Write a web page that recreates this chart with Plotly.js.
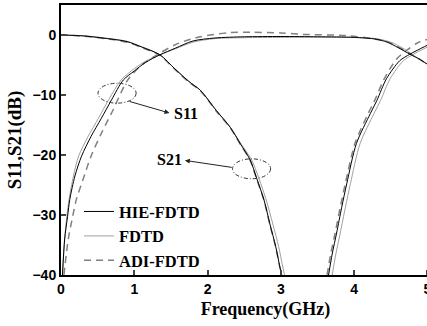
<!DOCTYPE html>
<html>
<head>
<meta charset="utf-8">
<script src="https://cdn.plot.ly/plotly-3.0.1.min.js"></script>
<style>
html,body{margin:0;padding:0;overflow:hidden;background:#fff;}
#chart{width:470px;height:326px;}
</style>
</head>
<body>
<div id="chart"></div>
<script>
// ---- data ----
const methods = ['HIE-FDTD', 'FDTD', 'ADI-FDTD'];

// Curve S21 (starts near 0 dB, falls to -40 dB near 3 GHz)
const s21_f_hie  = [0, 0.3, 0.6, 0.9, 1.1, 1.35, 1.55, 1.75, 1.9, 2.12, 2.31, 2.45, 2.58, 2.67, 2.77, 2.85, 2.93, 2.98, 3.01];
const s21_db_hie = [0, -0.15, -0.55, -1.1, -2.0, -3.3, -5.6, -7.8, -9.2, -12.6, -15.4, -18.2, -20.8, -23.9, -27.5, -31.5, -35.3, -38.3, -40];
const s21_f_fdtd  = [0, 0.3, 0.6, 0.9, 1.1, 1.35, 1.55, 1.75, 1.9, 2.12, 2.31, 2.46, 2.6, 2.7, 2.8, 2.89, 2.97, 3.02, 3.05];
const s21_db_fdtd = [0, -0.12, -0.5, -1.05, -1.95, -3.3, -5.6, -7.8, -9.2, -12.6, -15.4, -18.2, -20.8, -23.9, -27.5, -31.5, -35.3, -38.3, -40];
const s21_f_adi  = [0, 0.3, 0.6, 0.9, 1.1, 1.35, 1.55, 1.75, 1.9, 2.12, 2.31, 2.45, 2.58, 2.67, 2.77, 2.85, 2.93, 2.98, 3.01];
const s21_db_adi = [0, -0.2, -0.6, -1.2, -2.1, -3.4, -5.7, -7.9, -9.3, -12.7, -15.5, -18.3, -20.9, -24.0, -27.6, -31.6, -35.4, -38.4, -40];

// Curve S11 (rises from -40 dB near 0 GHz, flat near 0 dB, falls after 4.3 GHz)
const s11_f_hie  = [0.02, 0.05, 0.09, 0.12, 0.19, 0.28, 0.41, 0.55, 0.69, 0.85, 1.0, 1.15, 1.35, 1.56, 1.8, 2.1, 2.5, 3.0, 3.5, 4.0, 4.3, 4.45, 4.6, 4.76, 4.9, 5.05];
const s11_db_hie = [-40, -34, -30.2, -27.4, -23.5, -20.2, -16.9, -13.9, -10.8, -7.5, -6.0, -4.6, -3.3, -2.2, -1.0, -0.5, -0.3, -0.25, -0.3, -0.4, -0.7, -1.2, -2.1, -3.2, -4.1, -5.3];
const s11_f_fdtd  = [0.02, 0.05, 0.08, 0.11, 0.17, 0.24, 0.37, 0.51, 0.65, 0.82, 1.0, 1.15, 1.35, 1.56, 1.8, 2.1, 2.5, 3.0, 3.5, 4.0, 4.3, 4.5, 4.65, 4.8, 4.95, 5.05];
const s11_db_fdtd = [-40, -34, -30.2, -27.4, -23.5, -20.2, -16.9, -13.9, -10.8, -7.5, -5.6, -4.4, -3.3, -2.3, -1.2, -0.6, -0.45, -0.4, -0.35, -0.4, -0.6, -1.2, -2.1, -3.3, -4.5, -5.2];
const s11_f_adi  = [0.04, 0.1, 0.16, 0.21, 0.30, 0.41, 0.55, 0.71, 0.91, 1.1, 1.35, 1.6, 1.9, 2.3, 2.6, 3.0, 3.3, 3.9, 4.25, 4.45, 4.6, 4.75, 4.9, 5.05];
const s11_db_adi = [-40, -34, -30.2, -27.4, -24.1, -20.2, -16.4, -12.5, -7.5, -5.0, -3.0, -1.4, -0.3, 0.4, 0.45, 0.35, 0.1, -0.1, -0.6, -1.1, -2.0, -3.0, -4.1, -5.3];

// Curve rising from -40 dB at about 3.65 GHz
const s3_f_hie  = [3.65, 3.7, 3.76, 3.83, 3.9, 4.03, 4.22, 4.31, 4.44, 4.62, 4.76, 4.9, 5.05];
const s3_db_hie = [-40, -36.5, -33, -28.7, -24.7, -18.1, -13.1, -10.9, -7.3, -4.3, -3.2, -2.3, -1.4];
const s3_f_fdtd  = [3.70, 3.75, 3.81, 3.88, 3.95, 4.08, 4.27, 4.36, 4.49, 4.67, 4.81, 4.95, 5.1];
const s3_db_fdtd = [-40, -36.5, -33, -28.7, -24.7, -18.1, -13.1, -10.9, -7.3, -4.3, -3.2, -2.3, -1.4];
const s3_f_adi  = [3.63, 3.68, 3.74, 3.81, 3.88, 4.01, 4.19, 4.28, 4.41, 4.58, 4.72, 4.88, 5.05];
const s3_db_adi = [-40, -36.5, -33, -28.7, -24.7, -18.1, -13.1, -10.9, -7.3, -4.0, -2.5, -1.2, -0.6];

const xTickVals = [0, 1, 2, 3, 4, 5];
const yTickVals = [-40, -30, -20, -10, 0];

// ---- styles ----
const styles = {
  'HIE-FDTD': {color: '#000000', width: 1.0, dash: 'solid', rank: 1},
  'FDTD':     {color: '#a0a0a0', width: 1.0, dash: 'solid', rank: 2},
  'ADI-FDTD': {color: '#808080', width: 1.5, dash: '7px,5px', rank: 3}
};
const curves = {
  'HIE-FDTD': [[s21_f_hie, s21_db_hie], [s11_f_hie, s11_db_hie], [s3_f_hie, s3_db_hie]],
  'FDTD':     [[s21_f_fdtd, s21_db_fdtd], [s11_f_fdtd, s11_db_fdtd], [s3_f_fdtd, s3_db_fdtd]],
  'ADI-FDTD': [[s21_f_adi, s21_db_adi], [s11_f_adi, s11_db_adi], [s3_f_adi, s3_db_adi]]
};

const traces = [];
['FDTD', 'ADI-FDTD', 'HIE-FDTD'].forEach(function (m) {
  const st = styles[m];
  curves[m].forEach(function (c, i) {
    traces.push({
      x: c[0], y: c[1], type: 'scatter', mode: 'lines', name: m,
      legendgroup: m, showlegend: i === 0, legendrank: st.rank,
      line: {color: st.color, width: st.width, dash: st.dash, shape: 'spline', smoothing: 0.8},
      hoverinfo: 'skip'
    });
  });
});

const serif = 'Liberation Serif, Times New Roman, serif';
const sans = 'Liberation Sans, Arial, sans-serif';

const layout = {
  width: 470, height: 326,
  margin: {l: 61, r: 0, t: 5, b: 51},
  paper_bgcolor: '#fff', plot_bgcolor: '#fff',
  showlegend: true,
  legend: {
    x: 0.044, y: -0.012, xanchor: 'left', yanchor: 'bottom',
    bgcolor: 'rgba(0,0,0,0)', borderwidth: 0,
    font: {family: serif, size: 16.5, color: '#000', weight: 'bold'},
    traceorder: 'normal'
  },
  xaxis: {
    range: [0, 5.58], tickvals: xTickVals, ticks: 'inside', ticklen: 5, tickwidth: 2,
    showline: true, linewidth: 2, linecolor: '#000', mirror: true, showgrid: false, zeroline: false,
    tickfont: {family: sans, size: 14, color: '#000', weight: 'bold'},
    title: {text: 'Frequency(GHz)', font: {family: serif, size: 18, color: '#000', weight: 'bold'}, standoff: 7}
  },
  yaxis: {
    range: [-40, 5], tickvals: yTickVals, ticks: 'inside', ticklen: 5, tickwidth: 2,
    showline: true, linewidth: 2, linecolor: '#000', mirror: true, showgrid: false, zeroline: false,
    tickfont: {family: sans, size: 14, color: '#000', weight: 'bold'},
    title: {text: 'S11,S21(dB)', font: {family: serif, size: 19, color: '#000', weight: 'bold'}, standoff: 6}
  },
  shapes: [
    {type: 'circle', xref: 'x', yref: 'y', x0: 0.505, x1: 1.025, y0: -11.36, y1: -8.04,
     line: {color: '#333', width: 1, dash: '4px,2px,1px,2px'}},
    {type: 'circle', xref: 'x', yref: 'y', x0: 2.34, x1: 2.86, y0: -23.96, y1: -20.64,
     line: {color: '#333', width: 1, dash: '4px,2px,1px,2px'}}
  ],
  annotations: [
    {x: 1.48, y: -13.0, ax: 0.914, ay: -11.0, axref: 'x', ayref: 'y', xref: 'x', yref: 'y',
     text: '', showarrow: true, arrowhead: 2, arrowsize: 1, arrowwidth: 1, arrowcolor: '#222', standoff: 0},
    {x: 1.69, y: -20.9, ax: 2.35, ay: -22.1, axref: 'x', ayref: 'y', xref: 'x', yref: 'y',
     text: '', showarrow: true, arrowhead: 2, arrowsize: 1, arrowwidth: 1, arrowcolor: '#222', standoff: 0},
    {x: 1.705, y: -13.15, xref: 'x', yref: 'y', text: 'S11', showarrow: false,
     font: {family: serif, size: 16, color: '#000', weight: 'bold'}},
    {x: 1.487, y: -20.8, xref: 'x', yref: 'y', text: 'S21', showarrow: false,
     font: {family: serif, size: 16, color: '#000', weight: 'bold'}}
  ]
};

Plotly.newPlot('chart', traces, layout, {displayModeBar: false, staticPlot: true});
</script>
</body>
</html>
